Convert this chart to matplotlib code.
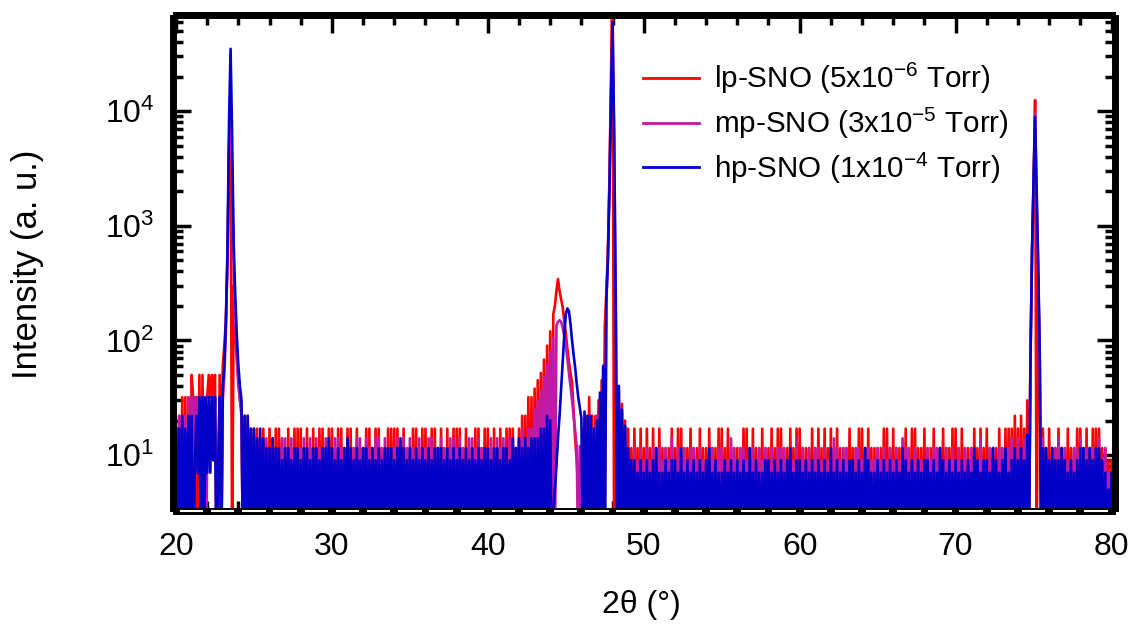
import numpy as np
import matplotlib
matplotlib.use('Agg')
import matplotlib.pyplot as plt
from matplotlib.collections import LineCollection
from matplotlib.transforms import ScaledTranslation
from matplotlib.ticker import MultipleLocator, LogLocator, NullFormatter

plt.rcParams['font.family'] = ['Liberation Sans', 'DejaVu Sans']
plt.rcParams['mathtext.fontset'] = 'custom'
plt.rcParams['mathtext.rm'] = 'Liberation Sans'
plt.rcParams['mathtext.it'] = 'Liberation Sans:italic'

# intensity levels (one character per 0.1 deg step, 20..80 deg)
levels = {'0': 1, '1': 5, '2': 7, '3': 9, '4': 11.5, '5': 14,
          '6': 17, '7': 22, '8': 32, '9': 50}

labels = ['lp-SNO (5x10$^{-6}$ Torr)',
          'mp-SNO (3x10$^{-5}$ Torr)',
          'hp-SNO (1x10$^{-4}$ Torr)']
colors = ['#FF0000', '#C01AA8', '#0000C8']

# lp-SNO background counts
lp_codes = """
6070808080 9808090908 8989890090 9999999999 9990707060
6060506040 6040606050 4060406060 6040604060 4060604060
6040606040 6060406040 4060604060 6040406060 6060406040
4060604060 6040606040 6040604060 6060406040 4060604060
6040604060 4060606040 6070708080 9999999999 9999999999
9999999999 0607080707 9999999999 9999999999 6040604060
4060406040 6040404060 4060604040 6040406040 4060404060
6040604040 4040606040 6040406040 4060406060 4040604060
6040404060 4060406040 6040604040 4060404060 6040604040
4040606040 6040404060 4060604040 6040406040 4060404060
6040604040 4060406040 6040404060 4060606070 6070609999
9999996040 6040406040 4060404060 6040604060 6060404030
3
"""
# lp-SNO peaks: (start 2theta, counts every 0.1 deg)
lp_peaks = [
    (23.0, [60, 90, 150, 500, 4000, 13000, 1, 300, 120, 70, 45, 30, 25]),
    (43.0, [38, 1, 45, 1, 52, 1, 68, 1, 90, 1, 120, 1, 170, 200, 270,
            343, 270, 230, 195, 150, 115, 85, 65, 52, 43, 25, 14, 9, 5, 3]),
    (47.0, [1, 30, 1, 45, 1, 130, 260, 600, 2500, 20000, 200000, 1, 300, 1,
            35, 1, 28, 1, 20, 1]),
    (74.6, [30, 1, 70, 500, 2200, 12500, 1, 350, 60, 1]),
]

# mp-SNO background counts
mp_codes = """
6070707080 8082838080 3838380380 9999999999 9990606050
5040504050 4050404050 5040504040 4050405040 5040405040
4050504040 5040405050 4050404050 5040504040 4050405040
5040405040 4050504040 5040405050 4050404050 5040504040
4050405040 5040505040 5060506060 9999999999 9999999999
9999999999 0506070606 9999999999 9999999999 4030403040
3040304040 4030403050 3040304030 4040304030 3040403040
4030305040 3040403030 4030403040 3040304040 4030403050
3040304030 4040304030 3050403040 4030304040 3040403030
4030403040 3040305040 4030403030 3040304040 4030403040
3040304030 4040305030 3040403040 4030405040 5040509999
9999995040 3040405030 4030304040 5040403040 4050304020
2
"""
mp_peaks = [
    (23.0, [30, 50, 120, 500, 5000, 13000, 3000, 400, 150, 70, 40, 30, 22]),
    (43.0, [25, 1, 30, 1, 36, 1, 48, 1, 62, 1, 80, 1, 105, 1, 135,
            145, 150, 145, 130, 110, 90, 70, 52, 40, 30, 22, 16, 12, 1, 12]),
    (47.0, [22, 1, 35, 1, 60, 1, 220, 500, 2500, 15000, 50000, 7000, 250, 1,
            40, 1, 25, 1, 18, 1]),
    (74.6, [15, 1, 70, 550, 2300, 9500, 1800, 420, 65, 1]),
]

# hp-SNO background counts
hp_codes = """
6060706070 7027280808 2828380280 9999999999 9990707060
6050605040 4050404030 4040304040 3040403040 4030404050
4030403040 5040304030 4040304030 4030404040 3040504030
4030403040 3040304040 4030403040 3040304030 4030403040
4030404030 4040305040 5040504050 5050606070 9999999999
9999999999 9999707060 9999999999 9999999999 4030302030
2030203040 2020302030 3020402030 2030203020 3040203020
2030203020 3020302040 2030202030 3020302030 2030402030
3020302030 2030203020 4020302030 2030302030 2040302020
3020302030 2030204030 2030203020 3030203020 4030203020
3020302030 2040302030 3020403020 3040203040 3040309999
9999994040 3040303040 3020302030 4040304030 4040302010
2
"""
hp_peaks = [
    (23.0, [40, 60, 150, 600, 8000, 35000, 6000, 700, 250, 110, 60, 40, 30]),
    (44.0, [20, 1, 3, 5, 8, 14, 22, 38, 65, 110, 170, 190, 180, 140, 100, 75,
            58, 42, 32, 26, 21, 1, 24, 1]),
    (47.0, [20, 1, 35, 1, 60, 1, 230, 500, 2000, 12000, 60000, 6000, 200, 1,
            40, 1, 25, 1, 18, 1]),
    (74.6, [15, 1, 60, 600, 2500, 8900, 2000, 450, 70, 1]),
]


def build(codes, peaks):
    y = np.array([levels[c] for c in "".join(codes.split())], dtype=float)
    for start, vals in peaks:
        i = int(round((start - 20) * 10))
        y[i:i + len(vals)] = vals
    x = 20 + 0.1 * np.arange(len(y))
    return x, y


fig = plt.figure(figsize=(11.38, 6.29), dpi=100)
ax = fig.add_axes([176 / 1138, 1 - 508 / 629, (1111.5 - 176) / 1138, (508 - 18) / 629])

for codes, peaks, col, lab in zip([lp_codes, mp_codes, hp_codes],
                                  [lp_peaks, mp_peaks, hp_peaks], colors, labels):
    x, y = build(codes, peaks)
    ax.plot(x, y, color=col, lw=1.9, label=lab)

ax.set_yscale('log')
ax.set_xlim(20, 80)
ax.set_ylim(3.45, 6.5e4)

ax.xaxis.set_major_locator(MultipleLocator(10))
ax.xaxis.set_minor_locator(MultipleLocator(2))
ax.yaxis.set_major_locator(LogLocator(base=10, numticks=10))
ax.yaxis.set_minor_locator(LogLocator(base=10, subs=np.arange(2, 10), numticks=20))
ax.yaxis.set_minor_formatter(NullFormatter())

for s in ax.spines.values():
    s.set_linewidth(5)
    s.set_position(('outward', 2.5))

ax.tick_params(which='both', direction='in', top=True, right=True, width=2.5)
ax.tick_params(which='major', length=13)
ax.tick_params(which='minor', length=7)
ax.tick_params(axis='y', which='major', labelsize=23, pad=13)
ax.tick_params(axis='x', which='major', labelsize=23, pad=15)

# white dashed line along the bottom frame
off = ScaledTranslation(0, -2.5 / 72, fig.dpi_scale_trans)
segs = [[(t + 0.25, 0), (t + 1.75, 0)] for t in range(20, 80, 2)]
lc = LineCollection(segs, colors='white', linewidths=1.5,
                    transform=ax.get_xaxis_transform() + off, clip_on=False, zorder=5)
ax.add_collection(lc, autolim=False)

fig.text(28 / 1138, 1 - 264 / 629, 'Intensity (a. u.)', rotation=90,
         ha='center', va='center', fontsize=25)
fig.text(641 / 1138, 1 - 605 / 629, '2θ (°)', ha='center', va='center', fontsize=23)

leg = ax.legend(loc='upper left', bbox_to_anchor=(643 / 1138, 1 - 61 / 629),
                bbox_transform=fig.transFigure, frameon=False, fontsize=21.3,
                handlelength=1.9, handletextpad=0.5, labelspacing=0.32,
                borderpad=0, borderaxespad=0)
for ln in leg.get_lines():
    ln.set_linewidth(2)

fig.savefig('out.png', dpi=100)
